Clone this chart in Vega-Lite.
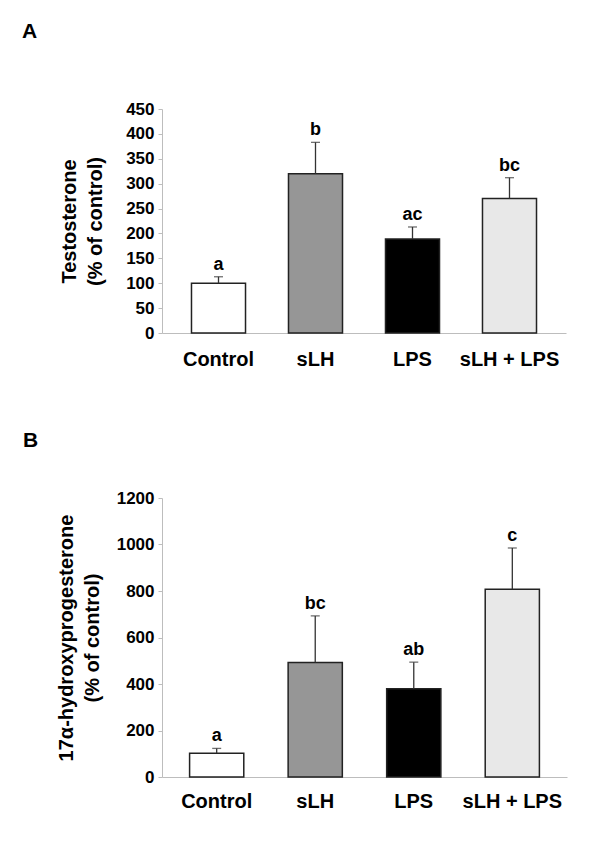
{
  "$schema": "https://vega.github.io/schema/vega-lite/v6.json",
  "padding": {"left": 22, "top": 21, "right": 5, "bottom": 5},
  "background": "white",
  "spacing": 61,
  "config": {
    "view": {"stroke": null},
    "font": "Liberation Sans",
    "axis": {"grid": false, "domainColor": "#bdbdbd", "tickColor": "#bdbdbd", "labelColor": "black", "labelFontWeight": "bold", "titleFontWeight": "bold", "titleColor": "black", "labelOverlap": false},
    "title": {"fontWeight": "bold", "fontSize": 21, "color": "black", "anchor": "start", "frame": "group"}
  },
  "vconcat": [
    {
      "width": 404,
      "height": 224,
      "title": {"text": "A", "dx": -140, "offset": 58},
      "data": {"values": [
        {"group": "Control", "mean": 100, "upper": 113, "letter": "a"},
        {"group": "sLH", "mean": 320, "upper": 383, "letter": "b"},
        {"group": "LPS", "mean": 189, "upper": 213, "letter": "ac"},
        {"group": "sLH + LPS", "mean": 270, "upper": 312, "letter": "bc"}
      ]},
      "encoding": {
        "x": {"field": "group", "type": "nominal", "sort": null,
          "scale": {"paddingInner": 0.443, "paddingOuter": 0.304},
          "axis": {"title": null, "ticks": false, "labelAngle": 0, "labelFontSize": 20, "labelPadding": 16}}
      },
      "layer": [
        {
          "mark": {"type": "bar", "stroke": "#222222", "strokeWidth": 1.5},
          "encoding": {
            "y": {"field": "mean", "type": "quantitative", "scale": {"domain": [0, 450]},
              "axis": {"values": [0, 50, 100, 150, 200, 250, 300, 350, 400, 450], "format": "d", "tickSize": 4, "labelFontSize": 17, "labelPadding": 4, "labelOverlap": false,
                "title": ["Testosterone", "(% of control)"], "titleFontSize": 20, "titleLineHeight": 26, "titlePadding": 20}},
            "color": {"field": "group", "type": "nominal", "legend": null,
              "scale": {"domain": ["Control", "sLH", "LPS", "sLH + LPS"], "range": ["#ffffff", "#969696", "#000000", "#e8e8e8"]}}
          }
        },
        {
          "mark": {"type": "rule", "color": "#333333", "strokeWidth": 1.3},
          "encoding": {"y": {"field": "mean", "type": "quantitative", "scale": {"domain": [0, 450]},
              "axis": {"values": [0, 50, 100, 150, 200, 250, 300, 350, 400, 450], "format": "d", "tickSize": 4, "labelFontSize": 17, "labelPadding": 4, "labelOverlap": false,
                "title": ["Testosterone", "(% of control)"], "titleFontSize": 20, "titleLineHeight": 26, "titlePadding": 20}}, "y2": {"field": "upper"}}
        },
        {
          "mark": {"type": "tick", "color": "#333333", "size": 9, "thickness": 1.3, "orient": "horizontal"},
          "encoding": {"y": {"field": "upper", "type": "quantitative", "scale": {"domain": [0, 450]},
              "axis": {"values": [0, 50, 100, 150, 200, 250, 300, 350, 400, 450], "format": "d", "tickSize": 4, "labelFontSize": 17, "labelPadding": 4, "labelOverlap": false,
                "title": ["Testosterone", "(% of control)"], "titleFontSize": 20, "titleLineHeight": 26, "titlePadding": 20}}}
        },
        {
          "mark": {"type": "text", "fontSize": 18, "fontWeight": "bold", "baseline": "alphabetic", "dy": -7, "color": "black"},
          "encoding": {"y": {"field": "upper", "type": "quantitative", "scale": {"domain": [0, 450]},
              "axis": {"values": [0, 50, 100, 150, 200, 250, 300, 350, 400, 450], "format": "d", "tickSize": 4, "labelFontSize": 17, "labelPadding": 4, "labelOverlap": false,
                "title": ["Testosterone", "(% of control)"], "titleFontSize": 20, "titleLineHeight": 26, "titlePadding": 20}}, "text": {"field": "letter"}}
        }
      ]
    },
    {
      "width": 405,
      "height": 279,
      "title": {"text": "B", "dx": -139, "offset": 38},
      "data": {"values": [
        {"group": "Control", "mean": 102, "upper": 123, "letter": "a"},
        {"group": "sLH", "mean": 492, "upper": 693, "letter": "bc"},
        {"group": "LPS", "mean": 380, "upper": 494, "letter": "ab"},
        {"group": "sLH + LPS", "mean": 807, "upper": 985, "letter": "c"}
      ]},
      "encoding": {
        "x": {"field": "group", "type": "nominal", "sort": null,
          "scale": {"paddingInner": 0.45, "paddingOuter": 0.28},
          "axis": {"title": null, "ticks": false, "labelAngle": 0, "labelFontSize": 20, "labelPadding": 14}}
      },
      "layer": [
        {
          "mark": {"type": "bar", "stroke": "#222222", "strokeWidth": 1.5},
          "encoding": {
            "y": {"field": "mean", "type": "quantitative", "scale": {"domain": [0, 1200]},
              "axis": {"values": [0, 200, 400, 600, 800, 1000, 1200], "format": "d", "tickSize": 4, "labelFontSize": 17, "labelPadding": 4, "labelOverlap": false,
                "title": ["17α-hydroxyprogesterone", "(% of control)"], "titleFontSize": 20, "titleLineHeight": 26, "titlePadding": 14}},
            "color": {"field": "group", "type": "nominal", "legend": null,
              "scale": {"domain": ["Control", "sLH", "LPS", "sLH + LPS"], "range": ["#ffffff", "#969696", "#000000", "#e8e8e8"]}}
          }
        },
        {
          "mark": {"type": "rule", "color": "#333333", "strokeWidth": 1.3},
          "encoding": {"y": {"field": "mean", "type": "quantitative", "scale": {"domain": [0, 1200]},
              "axis": {"values": [0, 200, 400, 600, 800, 1000, 1200], "format": "d", "tickSize": 4, "labelFontSize": 17, "labelPadding": 4, "labelOverlap": false,
                "title": ["17α-hydroxyprogesterone", "(% of control)"], "titleFontSize": 20, "titleLineHeight": 26, "titlePadding": 14}}, "y2": {"field": "upper"}}
        },
        {
          "mark": {"type": "tick", "color": "#333333", "size": 9, "thickness": 1.3, "orient": "horizontal"},
          "encoding": {"y": {"field": "upper", "type": "quantitative", "scale": {"domain": [0, 1200]},
              "axis": {"values": [0, 200, 400, 600, 800, 1000, 1200], "format": "d", "tickSize": 4, "labelFontSize": 17, "labelPadding": 4, "labelOverlap": false,
                "title": ["17α-hydroxyprogesterone", "(% of control)"], "titleFontSize": 20, "titleLineHeight": 26, "titlePadding": 14}}}
        },
        {
          "mark": {"type": "text", "fontSize": 18, "fontWeight": "bold", "baseline": "alphabetic", "dy": -7, "color": "black"},
          "encoding": {"y": {"field": "upper", "type": "quantitative", "scale": {"domain": [0, 1200]},
              "axis": {"values": [0, 200, 400, 600, 800, 1000, 1200], "format": "d", "tickSize": 4, "labelFontSize": 17, "labelPadding": 4, "labelOverlap": false,
                "title": ["17α-hydroxyprogesterone", "(% of control)"], "titleFontSize": 20, "titleLineHeight": 26, "titlePadding": 14}}, "text": {"field": "letter"}}
        }
      ]
    }
  ]
}
